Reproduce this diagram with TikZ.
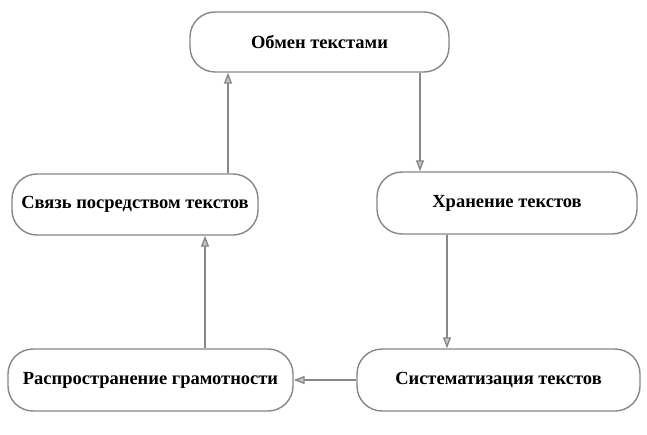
\documentclass[tikz,border=0pt]{standalone}
\usepackage{fontspec}
\setmainfont{Liberation Serif}
\usetikzlibrary{arrows.meta}
\definecolor{lineg}{RGB}{135,135,135}
\definecolor{headfill}{RGB}{200,200,200}
\tikzset{
  stagebox/.style={draw=lineg, line width=1.4pt, rounded corners=25pt, inner sep=0pt,
    font=\fontsize{18.5}{22}\selectfont\bfseries, text=black},
  flowarrow/.style={draw=lineg, line width=1.4pt,
    -{Triangle[length=11pt,width=8pt,fill=headfill]}},
}
\begin{document}
\begin{tikzpicture}[x=1pt,y=1pt]
\useasboundingbox[fill=white] (0,0) rectangle (647,434);
\node[stagebox, minimum width=259pt, minimum height=60pt] (obmen) at (319.5,392) {Обмен текстами};
\node[stagebox, minimum width=246pt, minimum height=61pt] (svyaz) at (135,229.5) {Связь посредством текстов};
\node[stagebox, minimum width=260pt, minimum height=62pt] (hran) at (507,231) {Хранение текстов};
\node[stagebox, minimum width=285pt, minimum height=62pt] (rasp) at (150.5,54) {Распространение грамотности};
\node[stagebox, minimum width=283pt, minimum height=62pt] (sist) at (498.5,54) {Систематизация текстов};
\coordinate (xa) at (420,0);
\coordinate (xb) at (228,0);
\coordinate (xc) at (447,0);
\coordinate (xd) at (205,0);
\draw[flowarrow] (obmen.south -| xa) -- (hran.north -| xa);
\draw[flowarrow] (svyaz.north -| xb) -- (obmen.south -| xb);
\draw[flowarrow] (hran.south -| xc) -- (sist.north -| xc);
\draw[flowarrow] (rasp.north -| xd) -- (svyaz.south -| xd);
\draw[flowarrow] (sist.west) -- (rasp.east);
\end{tikzpicture}
\end{document}
